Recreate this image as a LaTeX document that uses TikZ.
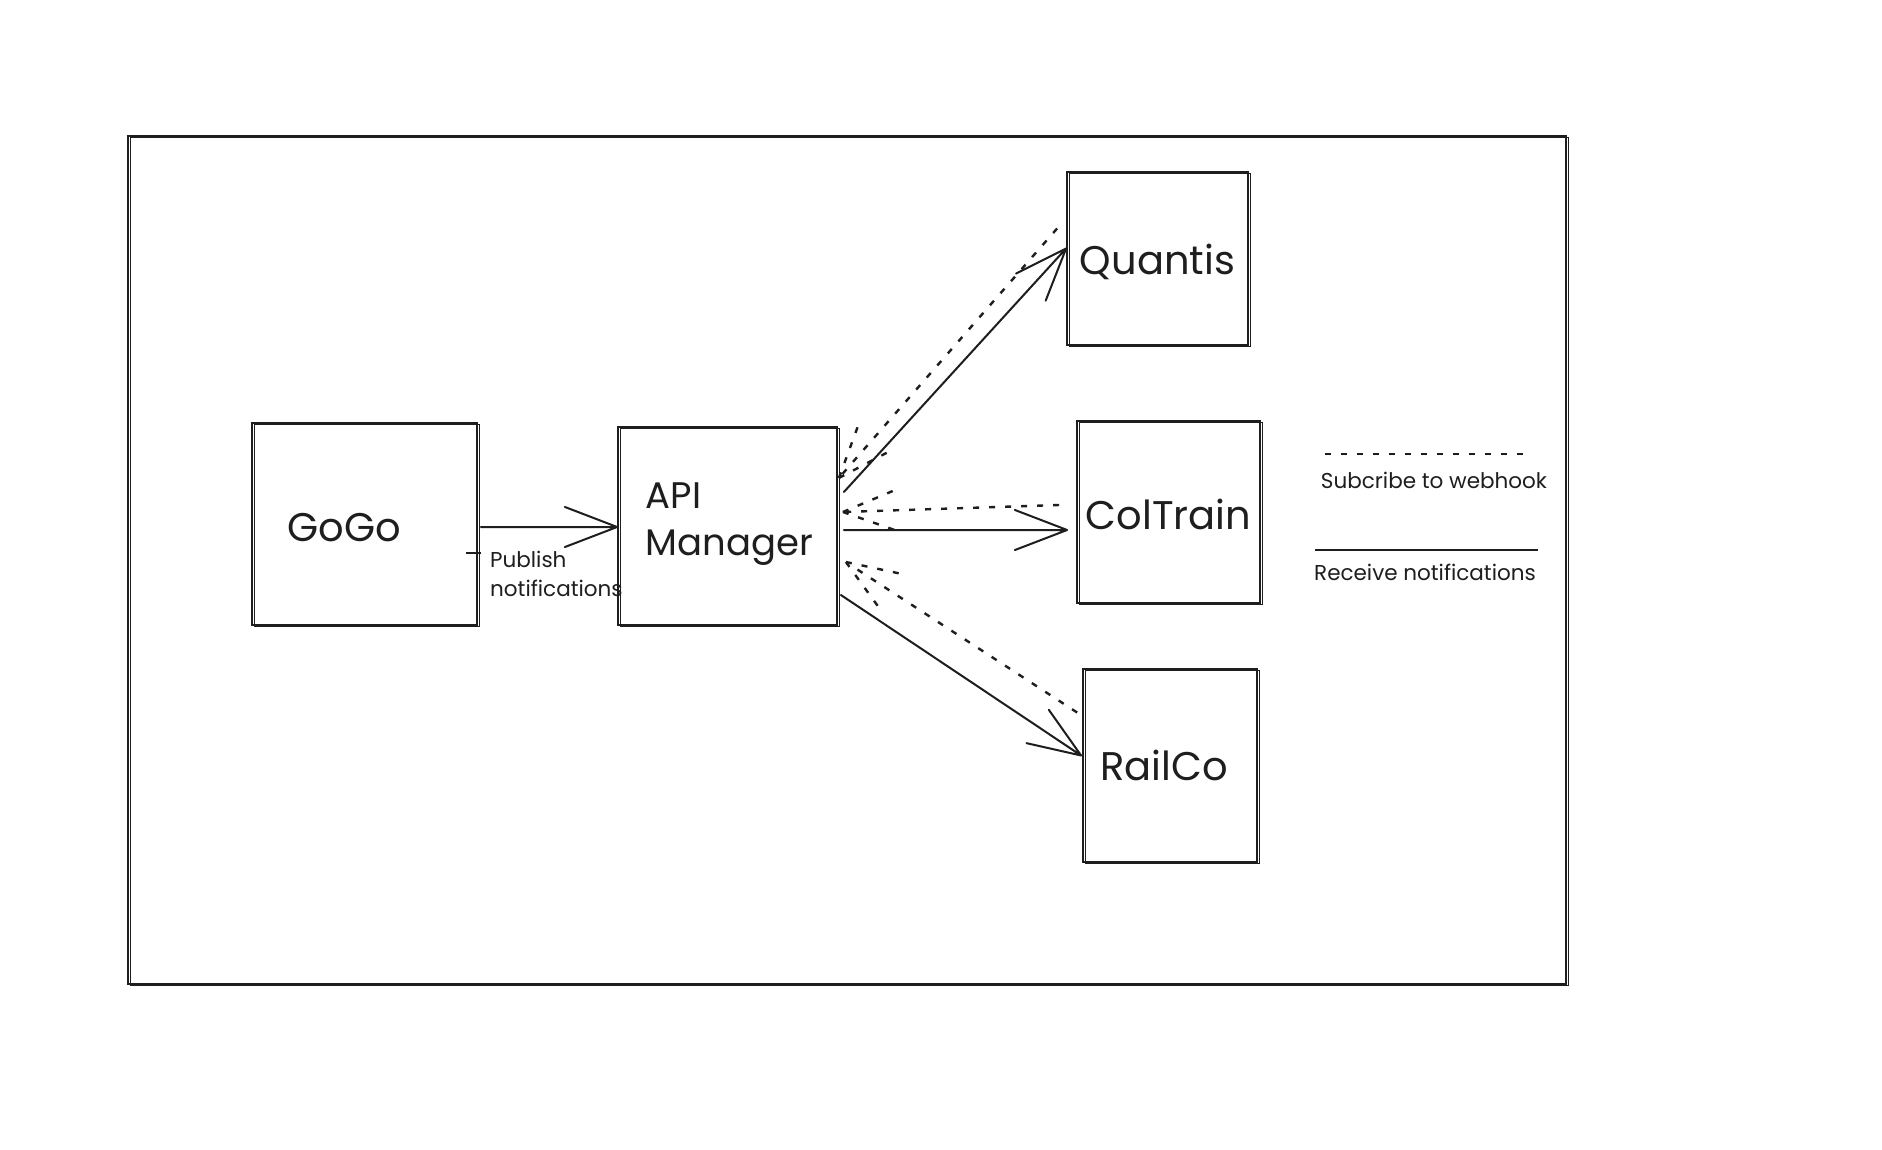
\documentclass[tikz,border=0pt]{standalone}
\usepackage{fontspec}
\setmainfont{Poppins}
\usetikzlibrary{calc}
\definecolor{ink}{HTML}{1E1E1E}
\begin{document}
\begin{tikzpicture}[x=1pt,y=-1pt,
  % hand-drawn look: every outline is stroked twice, slightly offset
  sketchbox/.style={draw=ink, line width=1.8pt, inner sep=0pt,
    postaction={draw=ink, line width=1.1pt, transform canvas={shift={(2.2pt,-1.8pt)}}}},
  lbl/.style={font=\fontsize{40}{44}\selectfont, text=ink},
  small/.style={font=\fontsize{21.5}{29}\selectfont, text=ink, inner sep=0pt},
  % solid line with an open V head at the target
  recv/.style={draw=ink, line width=2pt, line cap=round, line join=round,
    to path={-- (\tikztotarget)
      (\tikztotarget) -- ($(\tikztotarget)!56pt!21:(\tikztostart)$)
      (\tikztotarget) -- ($(\tikztotarget)!56pt!-21:(\tikztostart)$)}},
  % dotted variant for the webhook subscriptions
  subs/.style={recv, line width=2.4pt, line cap=butt, dash pattern=on 6pt off 10pt},
  dotline/.style={draw=ink, line width=2.4pt, dash pattern=on 6pt off 10pt},
  solidline/.style={draw=ink, line width=2pt},
]
\useasboundingbox[fill=white] (0,0) rectangle (1882,1150);

% outer frame
\node[sketchbox, line width=1.6pt, minimum width=1438pt, minimum height=848pt] (frame) at (847,560) {};

% systems
\node[sketchbox, minimum width=225pt, minimum height=202pt,
  label={[lbl, xshift=-20pt, yshift=-4pt]center:GoGo}] (gogo) at (364.5,524) {};
\node[sketchbox, minimum width=219pt, minimum height=198pt,
  label={[lbl, font=\fontsize{37}{47}\selectfont, align=left, xshift=2pt, yshift=2pt]center:API\\Manager}] (api) at (727.5,526) {};
\node[sketchbox, minimum width=181pt, minimum height=173pt,
  label={[lbl, yshift=-3pt]center:Quantis}] (quantis) at (1157.5,258.5) {};
\node[sketchbox, minimum width=183pt, minimum height=182pt,
  label={[lbl, yshift=-2pt]center:ColTrain}] (coltrain) at (1168.5,512) {};
\node[sketchbox, minimum width=174pt, minimum height=193pt,
  label={[lbl, xshift=-6pt]center:RailCo}] (railco) at (1170,765.5) {};

% publishing
\draw[recv] ([xshift=3pt,yshift=-3pt]gogo.east) to ([yshift=-1pt]api.west);
\draw[solidline] ([xshift=-12pt,yshift=-29pt]gogo.east) -- ([xshift=3pt,yshift=-29pt]gogo.east);
\node[small, align=left, anchor=west] (publish) at (490,574) {Publish\\notifications};

% webhook subscriptions (dotted) and notifications (solid)
\draw[subs] ([xshift=-9pt,yshift=30pt]quantis.west) to ([xshift=1pt,yshift=48pt]api.east);
\draw[recv] ([xshift=6pt,yshift=34pt]api.east) to ([yshift=10pt]quantis.west);

\draw[subs] ([xshift=-17pt,yshift=7pt]coltrain.west) to ([xshift=5pt,yshift=14pt]api.east);
\draw[recv] ([xshift=6pt,yshift=-4pt]api.east) to ([xshift=-9pt,yshift=-18pt]coltrain.west);

\draw[subs] ([xshift=-5pt,yshift=53pt]railco.west) to ([xshift=8pt,yshift=-36pt]api.east);
\draw[recv] ([xshift=3pt,yshift=-69pt]api.east) to ([xshift=-1pt,yshift=10pt]railco.west);

% legend
\node[small] (legsub) at (1434,480) {Subcribe to webhook};
\node[small] (legrecv) at (1425,572) {Receive notifications};
\draw[dotline] (1325,454) -- (1530,454);
\draw[solidline] (1315,550) -- (1538,550);
\end{tikzpicture}
\end{document}
